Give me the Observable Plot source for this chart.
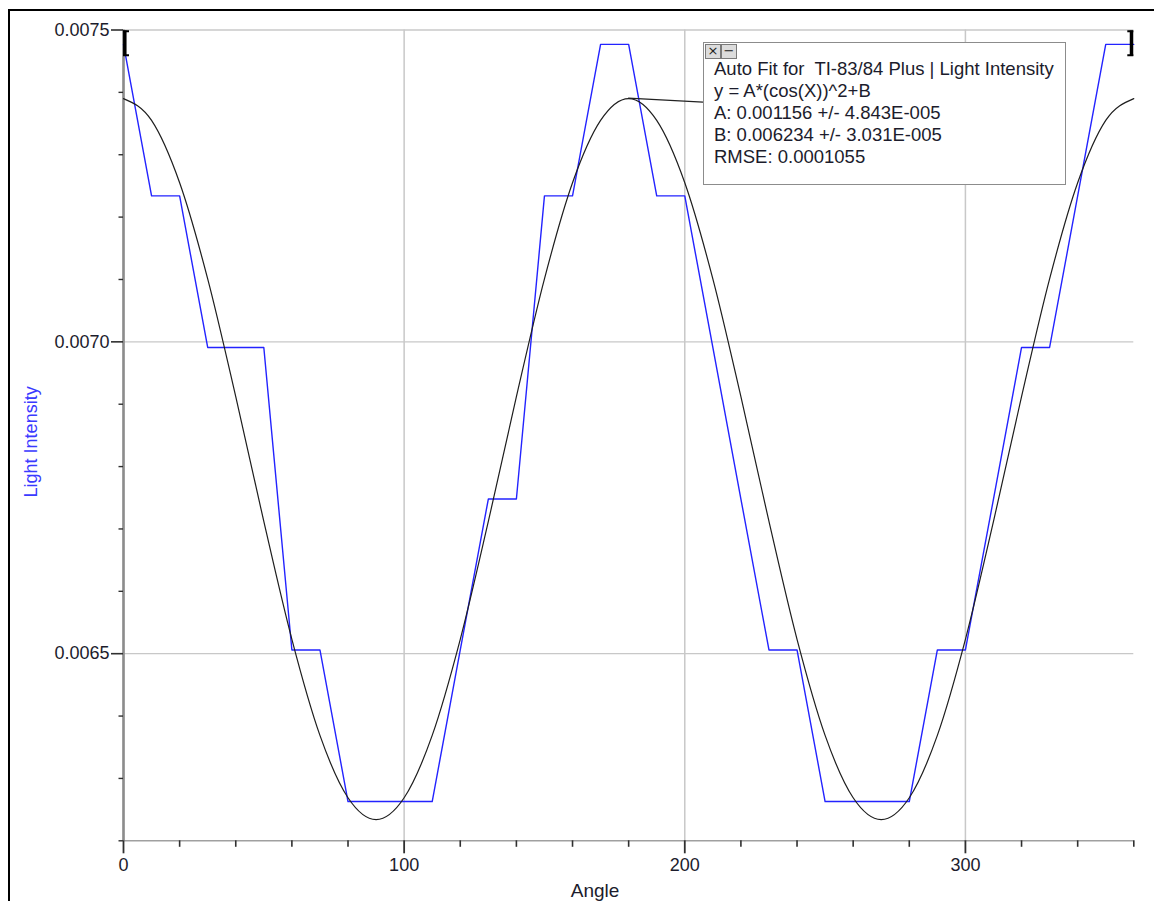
<!DOCTYPE html>
<html>
<head>
<meta charset="utf-8">
<script src="https://cdn.jsdelivr.net/npm/d3@7"></script>
<script src="https://cdn.jsdelivr.net/npm/@observablehq/plot@0.6"></script>
<style>
  html, body { margin: 0; padding: 0; background: #fff; }
  #wrap { position: relative; width: 1154px; height: 901px; overflow: hidden; background: #fff; }
  #frame { position: absolute; left: 8px; top: 9px; width: 1200px; height: 1000px;
           border-left: 2px solid #000; border-top: 2px solid #000; pointer-events: none; }
  #fit { position: absolute; left: 703px; top: 42px; width: 361px; height: 141px;
         border: 1px solid #8c8c8c; background: #fff;
         font-family: "Liberation Sans", Arial, sans-serif; font-size: 18.5px; color: #1c1c2c; }
  #fit .line { position: absolute; left: 10px; line-height: 20px; white-space: pre; }
  #fit .btn { position: absolute; top: 1px; width: 16px; height: 15px; background: #dcdcdc;
              border: 1px solid #7a7a7a; box-sizing: border-box; font-size: 13px;
              line-height: 12px; text-align: center; color: #222;
              font-family: "DejaVu Sans", sans-serif; }
</style>
</head>
<body>
<div id="wrap"></div>
<script>
// ---- data ----
const angles = [0,10,20,30,40,50,60,70,80,90,100,110,120,130,140,150,160,170,180,
                190,200,210,220,230,240,250,260,270,280,290,300,310,320,330,340,350,360];
const intensity = [0.007477,0.007234,0.007234,0.006991,0.006991,0.006991,0.006506,0.006506,0.006263,
                   0.006263,0.006263,0.006263,0.006506,0.006748,0.006748,0.007234,0.007234,0.007477,0.007477,
                   0.007234,0.007234,0.006991,0.006748,0.006506,0.006506,0.006263,0.006263,0.006263,0.006263,
                   0.006506,0.006506,0.006748,0.006991,0.006991,0.007234,0.007477,0.007477];
const fitIntensity = [0.007390,0.007355,0.007255,0.007101,0.006912,0.006712,0.006523,0.006369,0.006269,
                      0.006234,0.006269,0.006369,0.006523,0.006712,0.006912,0.007101,0.007255,0.007355,0.007390,
                      0.007355,0.007255,0.007101,0.006912,0.006712,0.006523,0.006369,0.006269,
                      0.006234,0.006269,0.006369,0.006523,0.006712,0.006912,0.007101,0.007255,0.007355,0.007390];
const xMajor = [0,100,200,300];
const xMinor = [20,40,60,80,120,140,160,180,220,240,260,280,320,340,360];
const yMajor = [0.0065,0.0070,0.0075];
const yMinor = [0.0062,0.0063,0.0064,0.0066,0.0067,0.0068,0.0069,0.0071,0.0072,0.0073,0.0074];
const xDomain = [0, 360];
const yDomain = [0.0062, 0.0075];
const xLabel = "Angle";
const yLabel = "Light Intensity";
const fitLines = ["Auto Fit for  TI-83/84 Plus | Light Intensity",
                  "y = A*(cos(X))^2+B",
                  "A: 0.001156 +/- 4.843E-005",
                  "B: 0.006234 +/- 3.031E-005",
                  "RMSE: 0.0001055"];
const rangeStart = 0, rangeEnd = 360;
const fitPeakAngle = 180, fitPeakValue = 0.007390;

const data = angles.map((a, i) => ({angle: a, value: intensity[i]}));
const fitData = angles.map((a, i) => ({angle: a, value: fitIntensity[i]}));

// brackets + leader line drawn through the scales
function overlay(index, scales) {
  const g = d3.create("svg:g");
  const x0 = scales.x(rangeStart), x1 = scales.x(rangeEnd), yT = scales.y(yDomain[1]);
  const b = g.append("g").attr("stroke", "#000").attr("fill", "none");
  b.append("path").attr("d", `M${x0+1.8},${yT+1}V${yT+26.5}`).attr("stroke-width", 3.5);
  b.append("path").attr("d", `M${x0},${yT+1.8}H${x0+6}M${x0},${yT+25.7}H${x0+6}`).attr("stroke-width", 2);
  b.append("path").attr("d", `M${x1-1.8},${yT+1}V${yT+26.5}`).attr("stroke-width", 3.5);
  b.append("path").attr("d", `M${x1},${yT+1.8}H${x1-6}M${x1},${yT+25.7}H${x1-6}`).attr("stroke-width", 2);
  const px = scales.x(fitPeakAngle), py = scales.y(fitPeakValue);
  g.append("path").attr("d", `M${px},${py}L703,${py+4}`).attr("stroke", "#222").attr("stroke-width", 1.1).attr("fill", "none");
  return g.node();
}

const chart = Plot.plot({
  width: 1154,
  height: 901,
  marginLeft: 123,
  marginRight: 20.7,
  marginTop: 29.5,
  marginBottom: 60.7,
  style: {fontFamily: "'Liberation Sans', Arial, sans-serif", fontSize: "18px", background: "transparent", color: "#1c1c2c"},
  x: {domain: xDomain, axis: null, label: null},
  y: {domain: yDomain, axis: null, label: null},
  marks: [
    Plot.gridX(xMajor, {stroke: "#c8c8c8", strokeOpacity: 1, strokeWidth: 1.5}),
    Plot.gridY(yMajor, {stroke: "#c8c8c8", strokeOpacity: 1, strokeWidth: 1.3}),
    Plot.ruleY([yDomain[0]], {stroke: "#a0a0a0", strokeWidth: 1.6}),
    Plot.ruleX([xDomain[0]], {stroke: "#8c8c8c", strokeWidth: 2.6}),
    Plot.axisY(yMinor, {label: null, tickSize: 4.5, tickFormat: () => "", stroke: "#303030", strokeWidth: 1.4}),
    Plot.axisY(yMajor, {label: null, tickSize: 12, tickPadding: 2, tickFormat: d3.format(".4f"), stroke: "#303030", strokeWidth: 1.6, fill: "#1c1c2c"}),
    Plot.axisX(xMinor, {label: null, tickSize: 6.5, tickFormat: () => "", stroke: "#303030", strokeWidth: 1.6}),
    Plot.axisX(xMajor, {label: null, tickSize: 13, tickPadding: 4, tickFormat: d3.format("d"), stroke: "#303030", strokeWidth: 1.8, fill: "#1c1c2c"}),
    Plot.line(data, {x: "angle", y: "value", stroke: "#2323ff", strokeWidth: 1.4}),
    Plot.line(fitData, {x: "angle", y: "value", stroke: "#1e1e1e", strokeWidth: 1.2, curve: "monotone-x"}),
    Plot.text([yLabel], {frameAnchor: "left", textAnchor: "middle", rotate: -90, dx: -92, dy: 6.5, fill: "#3a3aff", fontSize: 18}),
    Plot.text([xLabel], {frameAnchor: "bottom-left", textAnchor: "middle", dx: 471.5, dy: 56, fill: "#1c1c2c", fontSize: 19}),
    overlay
  ]
});

const wrap = document.getElementById("wrap");
chart.style.position = "absolute";
chart.style.left = "0px";
chart.style.top = "0px";
wrap.appendChild(chart);

const fit = document.createElement("div");
fit.id = "fit";
const b1 = document.createElement("div"); b1.className = "btn"; b1.style.left = "1px"; b1.textContent = "×";
const b2 = document.createElement("div"); b2.className = "btn"; b2.style.left = "17px"; b2.textContent = "−";
fit.appendChild(b1); fit.appendChild(b2);
fitLines.forEach((t, i) => {
  const d = document.createElement("div");
  d.className = "line";
  d.style.top = (16 + 22 * i) + "px";
  d.textContent = t;
  fit.appendChild(d);
});
wrap.appendChild(fit);

const frame = document.createElement("div");
frame.id = "frame";
wrap.appendChild(frame);
</script>
</body>
</html>
